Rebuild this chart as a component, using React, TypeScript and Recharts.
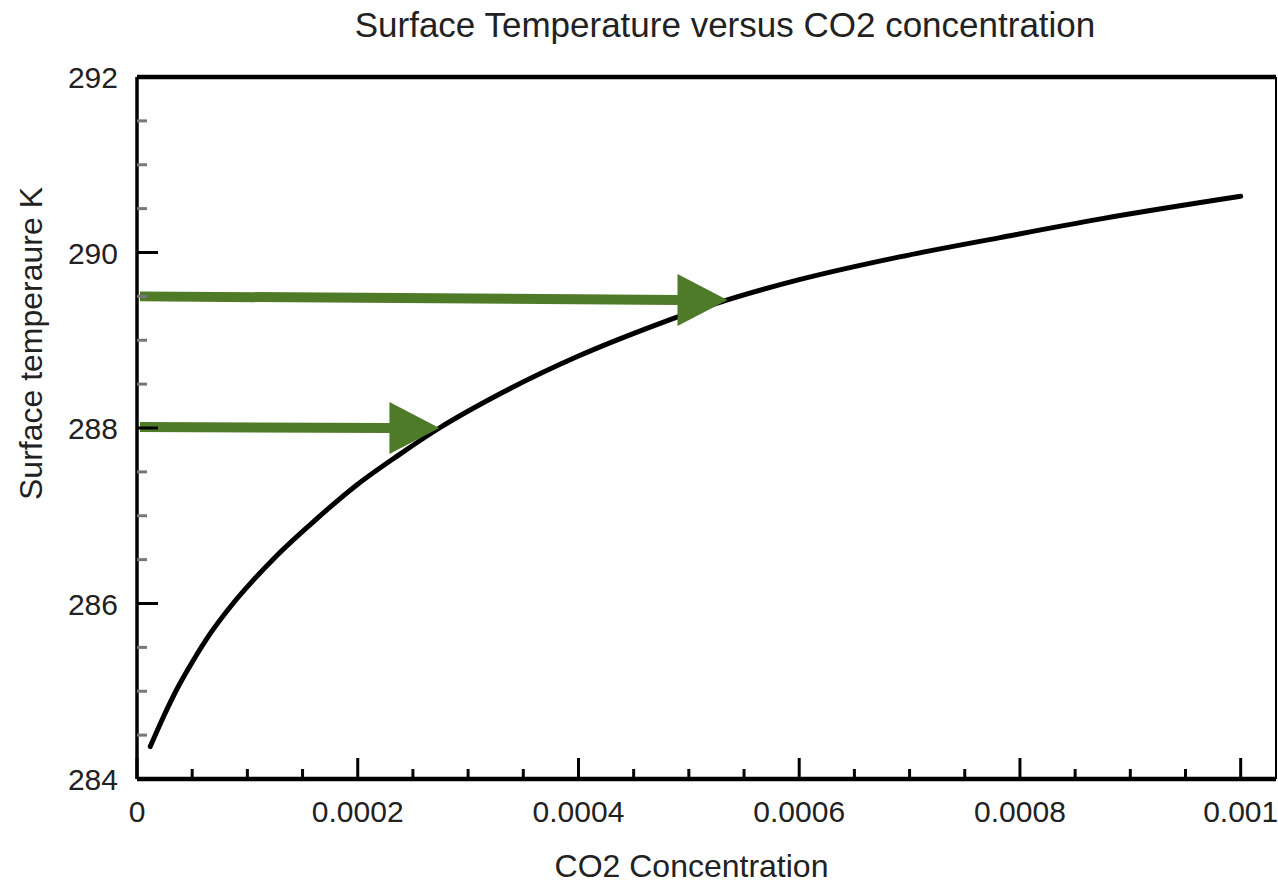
import React from 'react';
import { LineChart, Line, XAxis, YAxis, ReferenceLine } from 'recharts';

// curve (CO2 concentration -> surface temperature K)
const co2 = [
    0.000012, 0.000024, 0.000036, 0.00005, 0.000066, 0.000087, 0.000105, 0.000127,
    0.000157, 0.0002, 0.000238, 0.000274, 0.000329, 0.0004, 0.000465, 0.000535,
    0.0006, 0.000691, 0.000782, 0.000872, 0.001,
];
const temperature = [
    284.37, 284.71, 285.02, 285.33, 285.65, 286.0, 286.26, 286.55,
    286.9, 287.36, 287.7, 288.0, 288.39, 288.82, 289.15, 289.46,
    289.69, 289.95, 290.17, 290.38, 290.64,
];

// green arrows: start level at x=0, tip on the curve
const arrowStartTemp = [288.01, 289.5];
const arrowTipCo2 = [0.000274, 0.000535];
const arrowTipTemp = [288.0, 289.46];

const xMajorTicks = [0, 0.0002, 0.0004, 0.0006, 0.0008, 0.001];
const xMajorLabels = ['0', '0.0002', '0.0004', '0.0006', '0.0008', '0.001'];
const xMinorTicks = [
    0.00005, 0.0001, 0.00015, 0.00025, 0.0003, 0.00035, 0.00045, 0.0005, 0.00055,
    0.00065, 0.0007, 0.00075, 0.00085, 0.0009, 0.00095,
];
const yMajorTicks = [284, 286, 288, 290, 292];
const yMinorTicks = [284.5, 285, 285.5, 286.5, 287, 287.5, 288.5, 289, 289.5, 290.5, 291, 291.5];

const X_MAX = 0.001032;
const GREEN = '#4f7a28';
const FONT = '"Liberation Sans", Arial, Helvetica, sans-serif';

const chartData = co2.map((c, i) => ({ co2: c, temp: temperature[i] }));
const xTicks = [...xMajorTicks, ...xMinorTicks].sort((a, b) => a - b);
const yTicks = [...yMajorTicks, ...yMinorTicks].sort((a, b) => a - b);

const XTick = ({ x, y, payload }: any) => {
    const idx = xMajorTicks.findIndex(m => Math.abs(m - payload.value) < 1e-9);
    const major = idx >= 0;
    return (
        <g>
            <line x1={x} y1={y} x2={x} y2={y - (major ? 21 : 10)} stroke="#000" strokeWidth={3} />
            {major && (
                <text x={x} y={y + 43} textAnchor="middle" fontSize={30} fontFamily={FONT} fill="#222">
                    {xMajorLabels[idx]}
                </text>
            )}
        </g>
    );
};

const YTick = ({ x, y, payload }: any) => {
    const major = yMajorTicks.includes(payload.value);
    return (
        <g>
            <line
                x1={x}
                y1={y}
                x2={x + (major ? 21 : 10)}
                y2={y}
                stroke={major ? '#000' : '#777'}
                strokeWidth={3}
            />
            {major && (
                <text x={x - 19} y={y + 11} textAnchor="end" fontSize={30} fontFamily={FONT} fill="#222">
                    {payload.value}
                </text>
            )}
        </g>
    );
};

const ArrowShape = (props: any) => {
    const { x1, y1, x2, y2 } = props;
    const headLen = 50;
    const headHalf = 26;
    return (
        <g>
            <line x1={x1 + 3} y1={y1} x2={x2 - headLen + 2} y2={y2} stroke={GREEN} strokeWidth={10} />
            <polygon
                points={`${x2 - headLen},${y2 - headHalf} ${x2},${y2} ${x2 - headLen},${y2 + headHalf}`}
                fill={GREEN}
            />
        </g>
    );
};

export default function App() {
    return (
        <div style={{ position: 'absolute', left: 0, top: 0, width: 1278, height: 883, background: '#fff', fontFamily: FONT }}>
            <div
                style={{
                    position: 'absolute', left: 0, width: 1450, top: 7, textAlign: 'center',
                    fontSize: 35, lineHeight: '35px', color: '#222', whiteSpace: 'nowrap',
                }}
            >
                Surface Temperature versus CO2 concentration
            </div>
            <div
                style={{
                    position: 'absolute', left: 0, width: 1383, top: 850, textAlign: 'center',
                    fontSize: 32, lineHeight: '32px', color: '#222', whiteSpace: 'nowrap',
                }}
            >
                CO2 Concentration
            </div>
            <div
                style={{
                    position: 'absolute', left: 15, top: 500, transformOrigin: '0 0', transform: 'rotate(-90deg)',
                    fontSize: 32, lineHeight: '32px', color: '#222', whiteSpace: 'nowrap',
                }}
            >
                Surface temperaure K
            </div>
            <LineChart
                width={1278}
                height={883}
                data={chartData}
                margin={{ top: 77, right: 2, left: 77, bottom: 44 }}
                style={{ position: 'absolute', left: 0, top: 0 }}
            >
                <XAxis
                    dataKey="co2"
                    type="number"
                    domain={[0, X_MAX]}
                    ticks={xTicks}
                    interval={0}
                    height={60}
                    tickSize={0}
                    tickMargin={0}
                    tickLine={false}
                    tick={<XTick />}
                    axisLine={{ stroke: '#000', strokeWidth: 4.5 }}
                    allowDataOverflow
                />
                <YAxis
                    type="number"
                    domain={[284, 292]}
                    ticks={yTicks}
                    interval={0}
                    width={60}
                    tickSize={0}
                    tickMargin={0}
                    tickLine={false}
                    tick={<YTick />}
                    axisLine={{ stroke: '#000', strokeWidth: 3.5 }}
                    allowDataOverflow
                />
                <ReferenceLine y={292} stroke="#000" strokeWidth={4.5} />
                <ReferenceLine x={X_MAX} stroke="#000" strokeWidth={2} />
                <Line
                    dataKey="temp"
                    type="monotone"
                    stroke="#000"
                    strokeWidth={5}
                    strokeLinecap="round"
                    dot={false}
                    activeDot={false}
                    isAnimationActive={false}
                />
                {arrowTipCo2.map((c, i) => (
                    <ReferenceLine
                        key={i}
                        segment={[
                            { x: 0, y: arrowStartTemp[i] },
                            { x: c, y: arrowTipTemp[i] },
                        ]}
                        shape={ArrowShape}
                    />
                ))}
            </LineChart>
        </div>
    );
}
